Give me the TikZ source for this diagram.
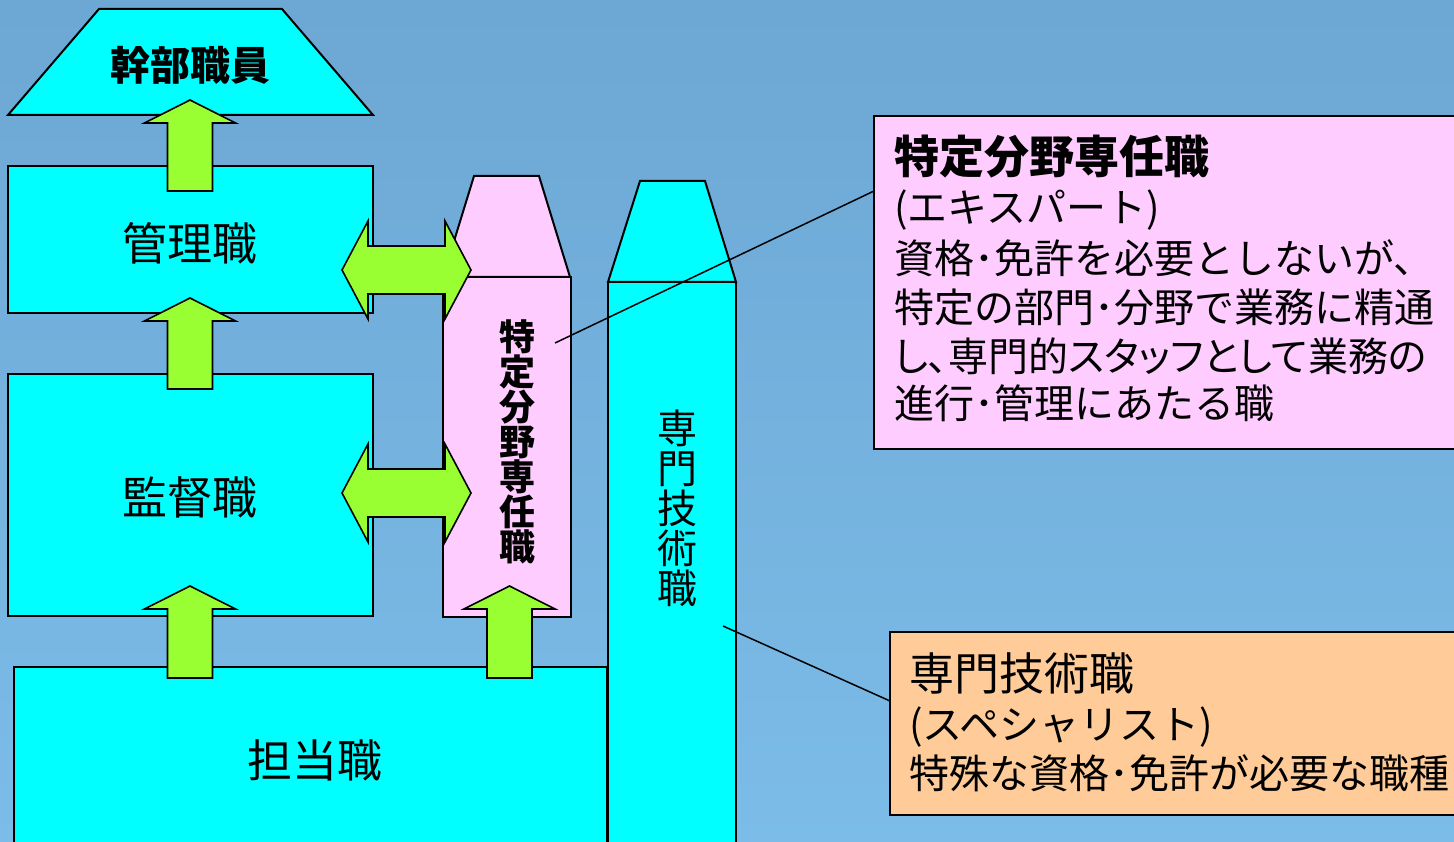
\documentclass[tikz,border=0pt]{standalone}
\usepackage{fontspec}
\newfontfamily\jp{Noto Sans CJK JP}
\newfontfamily\jpprop[RawFeature=+palt]{Noto Sans CJK JP}
\usetikzlibrary{calc}
\definecolor{bgtop}{HTML}{6DA7D4}
\definecolor{bgbot}{HTML}{7CBCE8}
\definecolor{cyanbox}{HTML}{00FFFF}
\definecolor{pinkbox}{HTML}{FFCCFF}
\definecolor{orangebox}{HTML}{FFCC99}
\definecolor{arrowgreen}{HTML}{99FF33}
\tikzset{
  shape line/.style={draw=black, line width=2pt, line join=miter},
  cyanfill/.style={shape line, fill=cyanbox},
  pinkfill/.style={shape line, fill=pinkbox},
  orangefill/.style={shape line, fill=orangebox},
  greenarrow/.style={draw=black, line width=1.6pt, fill=arrowgreen, line join=miter},
  calloutline/.style={draw=black, line width=1.5pt},
  lbl/.style={inner sep=0pt, font=\jp\fontsize{45}{50}\selectfont},
  txt/.style={inner sep=0pt, anchor=west, font=\jp\fontsize{40}{48}\selectfont},
}
\newcommand{\uparrowshape}[4]{% center x, tip y, head-base y, bottom y
  \path[greenarrow] (#1,#2) -- (#1+45.5,#3) -- (#1+22.5,#3) -- (#1+22.5,#4)
    -- (#1-22.5,#4) -- (#1-22.5,#3) -- (#1-45.5,#3) -- cycle;}
\newcommand{\dblarrowshape}[1]{% center y
  \path[greenarrow] (342,#1) -- (368,#1-49) -- (368,#1-24) -- (445,#1-24)
    -- (445,#1-49) -- (471,#1) -- (445,#1+49) -- (445,#1+24) -- (368,#1+24)
    -- (368,#1+49) -- cycle;}
\begin{document}
\begin{tikzpicture}[x=1pt, y=-1pt]
\useasboundingbox (0,0) rectangle (1454,842);
\shade[top color=bgtop, bottom color=bgbot] (0,0) rectangle (1454,842);

% executive trapezoid
\path[cyanfill] (8,115) -- (99,9) -- (282,9) -- (373,115) -- cycle;
\node[lbl, font=\jp\bfseries\fontsize{40}{46}\selectfont] (kanbu) at (190,65) {幹部職員};

% management
\path[cyanfill] (8,166) rectangle (373,313);
\node[lbl] (kanri) at (190,243) {管理職};

% supervisor
\path[cyanfill] (8,374) rectangle (373,616);
\node[lbl] (kantoku) at (190,497) {監督職};

% pink column
\path[pinkfill] (443,277) rectangle (571,617);
\path[pinkfill] (443,277) -- (474,176) -- (539,176) -- (570,277) -- cycle;
\node[inner sep=0pt, align=center, font=\jp\bfseries\fontsize{36}{35}\selectfont] (tokutei) at (517,442)
  {特\\定\\分\\野\\専\\任\\職};

% cyan column
\path[cyanfill] (608,282) rectangle (736,860);
\path[cyanfill] (608,282) -- (640,181) -- (705,181) -- (736,282) -- cycle;
\node[inner sep=0pt, align=center, font=\jp\fontsize{40}{40}\selectfont] (senmon) at (677,508)
  {専\\門\\技\\術\\職};

% staff
\path[cyanfill] (14,667) rectangle (607,860);
\node[lbl] (tanto) at (315,760) {担当職};

% up arrows
\uparrowshape{190}{100}{123}{191}
\uparrowshape{190}{298}{321}{389}
\uparrowshape{190}{586}{609}{678}
\uparrowshape{509.5}{586}{609}{678}

% double arrows
\dblarrowshape{270}
\dblarrowshape{493}

% callout boxes
\path[pinkfill] (874,116) rectangle (1470,449);
\path[orangefill] (890,632) rectangle (1470,815);

\coordinate (c1a) at (555,343);
\coordinate (c1b) at (874,191);
\draw[calloutline] (c1a) -- (c1b);
\coordinate (c2a) at (723,626);
\coordinate (c2b) at (890,701);
\draw[calloutline] (c2a) -- (c2b);

% pink callout text
\node[txt, font=\jp\bfseries\fontsize{45}{50}\selectfont] (p1) at (894,157) {特定分野専任職};
\node[txt] (p2) at (894,210) {(エキスパート)};
\node[txt] (p3) at (894,258) {資格･免許を必要としないが、};
\node[txt] (p4) at (894,307) {特定の部門･分野で業務に精通};
\node[txt, font=\jpprop\fontsize{40}{48}\selectfont] (p5) at (894,356) {し、専門的スタッフとして業務の};
\node[txt] (p6) at (894,403) {進行･管理にあたる職};

% orange callout text
\node[txt, font=\jp\fontsize{45}{50}\selectfont] (o1) at (909,673) {専門技術職};
\node[txt] (o2) at (909,727) {(スペシャリスト)};
\node[txt] (o3) at (909,773) {特殊な資格･免許が必要な職種};
\end{tikzpicture}
\end{document}
